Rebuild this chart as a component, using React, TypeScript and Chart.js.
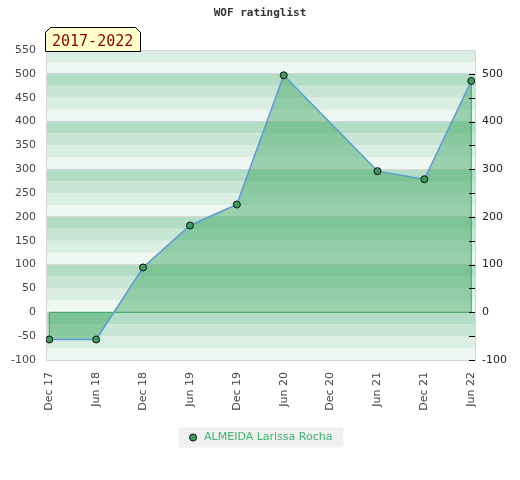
import React, { useEffect, useRef } from "react";
import { Chart, registerables } from "chart.js";

Chart.register(...registerables);

const xLabels: string[] = ["Dec 17", "Jun 18", "Dec 18", "Jun 19", "Dec 19", "Jun 20", "Dec 20", "Jun 21", "Dec 21", "Jun 22"];
const ratings: (number | null)[] = [-57, -57, 94, 182, 226, 497, null, 296, 279, 485];
const seriesName = "ALMEIDA Larissa Rocha";
const chartTitle = "WOF ratinglist";
const periodLabel = "2017-2022";
const yMin = -100;
const yMax = 550;
const bandColors = ["#eef7f1", "#dbeee3", "#c8e6d5", "#b3dec5"]; // by (value mod 100)/25

const bandsPlugin = {
  id: "bands",
  beforeDraw(chart: any) {
    const { ctx, chartArea } = chart;
    const y = chart.scales.y;
    ctx.save();
    for (let v = yMin; v < yMax; v += 25) {
      const idx = (((v % 100) + 100) % 100) / 25;
      const top = y.getPixelForValue(v + 25);
      const bot = y.getPixelForValue(v);
      ctx.fillStyle = bandColors[idx];
      ctx.fillRect(chartArea.left, top, chartArea.right - chartArea.left, bot - top);
    }
    const lg = chart.legend;
    if (lg && lg.legendHitBoxes && lg.legendHitBoxes.length) {
      const hb = lg.legendHitBoxes[0];
      const cy = hb.top + 5.5;
      ctx.fillStyle = "#f0f0f0";
      ctx.fillRect(hb.left - 9, cy - 10, hb.width + 20, 20);
    }
    ctx.restore();
  },
};

const outlinePlugin = {
  id: "outline",
  beforeDatasetDraw(chart: any) {
    const { ctx } = chart;
    const x = chart.scales.x;
    const y = chart.scales.y;
    const idxs = ratings.map((v, i) => (v === null ? -1 : i)).filter((i) => i >= 0);
    const first = idxs[0];
    const last = idxs[idxs.length - 1];
    ctx.save();
    ctx.strokeStyle = "#34a05a";
    ctx.lineWidth = 1;
    ctx.beginPath();
    ctx.moveTo(x.getPixelForValue(first), y.getPixelForValue(ratings[first] as number));
    ctx.lineTo(x.getPixelForValue(first), y.getPixelForValue(0));
    ctx.lineTo(x.getPixelForValue(last), y.getPixelForValue(0));
    ctx.lineTo(x.getPixelForValue(last), y.getPixelForValue(ratings[last] as number));
    ctx.stroke();
    ctx.restore();
  },
};

const rightTicksPlugin = {
  id: "rightTicks",
  afterDatasetsDraw(chart: any) {
    const { ctx, chartArea } = chart;
    const y2 = chart.scales.y2;
    ctx.save();
    ctx.strokeStyle = "#000";
    ctx.lineWidth = 1;
    ctx.beginPath();
    for (const t of y2.ticks) {
      if (t.value >= yMax) continue;
      const py = Math.round(y2.getPixelForValue(t.value)) + 0.5;
      ctx.moveTo(chartArea.right - 6, py);
      ctx.lineTo(chartArea.right, py);
    }
    ctx.stroke();
    ctx.restore();
  },
};

const badgePlugin = {
  id: "badge",
  afterDraw(chart: any) {
    const { ctx, chartArea } = chart;
    const l = chartArea.left - 1;
    const b = chartArea.top + 1;
    const w = 95;
    const h = 24;
    const c = 5;
    ctx.save();
    ctx.beginPath();
    ctx.moveTo(l + 0.5, b + 0.5);
    ctx.lineTo(l + 0.5, b - h + c + 0.5);
    ctx.lineTo(l + c + 0.5, b - h + 0.5);
    ctx.lineTo(l + w - c + 0.5, b - h + 0.5);
    ctx.lineTo(l + w + 0.5, b - h + c + 0.5);
    ctx.lineTo(l + w + 0.5, b + 0.5);
    ctx.closePath();
    ctx.fillStyle = "#ffffcc";
    ctx.fill();
    ctx.strokeStyle = "#000";
    ctx.lineWidth = 1;
    ctx.stroke();
    ctx.fillStyle = "#8b0000";
    ctx.font = "15px 'DejaVu Sans Mono'";
    ctx.textBaseline = "alphabetic";
    ctx.textAlign = "left";
    ctx.fillText(periodLabel, l + 7, b - 5);
    ctx.restore();
  },
};

export default function App() {
  const ref = useRef<HTMLCanvasElement | null>(null);
  useEffect(() => {
    document.body.style.margin = "0";
    Chart.defaults.font.family = "'DejaVu Sans'";
    Chart.defaults.font.size = 11;
    const chart = new Chart(ref.current as HTMLCanvasElement, {
      type: "line",
      data: {
        datasets: [
          {
            label: seriesName,
            data: ratings.map((v, i) => ({ x: i, y: v })) as any,
            spanGaps: true,
            fill: "origin",
            backgroundColor: "rgba(69,170,103,0.5)",
            borderColor: "#5b9bd5",
            borderWidth: 1.5,
            tension: 0,
            pointRadius: 3.5,
            pointBackgroundColor: "#3a9d5d",
            pointBorderColor: "#111",
            pointBorderWidth: 1,
          },
        ],
      },
      options: {
        animation: false,
        responsive: false,
        layout: { padding: { top: 0, bottom: 27, left: 0, right: 0 } },
        plugins: {
          title: {
            display: true,
            text: chartTitle,
            color: "#333",
            font: { family: "'DejaVu Sans Mono'", size: 11, weight: "bold" },
            padding: { top: 7, bottom: 29.8 },
          },
          legend: {
            position: "bottom",
            labels: {
              usePointStyle: true,
              pointStyle: "circle",
              boxWidth: 11,
              boxHeight: 5,
              color: "#3cb371",
              font: { size: 11 },
              padding: 12,
            },
          },
          tooltip: { enabled: false },
        },
        scales: {
          x: {
            type: "linear",
            min: -0.07,
            max: 9.08,
            afterBuildTicks: (scale: any) => {
              scale.ticks = xLabels.map((_, i) => ({ value: i }));
            },
            afterFit: (scale: any) => {
              scale.height = 60;
            },
            ticks: {
              callback: (v: any) => xLabels[v as number] ?? "",
              minRotation: 90,
              maxRotation: 90,
              padding: 12,
              color: "#444",
              autoSkip: false,
            },
            grid: { display: true, drawOnChartArea: false, drawTicks: false },
            border: { color: "#d6d6d6" },
          },
          y: {
            type: "linear",
            position: "left",
            min: yMin,
            max: yMax,
            afterFit: (scale: any) => {
              scale.width = 46;
            },
            ticks: { stepSize: 50, padding: 10, color: "#444" },
            grid: {
              drawTicks: false,
              color: (ctx: any) =>
                ctx.tick && (ctx.tick.value % 100 === 0 || ctx.tick.value === yMax) ? "#d8d8d8" : "rgba(0,0,0,0)",
            },
            border: { color: "#d6d6d6" },
          },
          y2: {
            type: "linear",
            position: "right",
            min: yMin,
            max: yMax,
            afterFit: (scale: any) => {
              scale.width = 45;
            },
            ticks: {
              stepSize: 50,
              padding: 7,
              color: "#222",
              callback: (v: any) => (Number(v) % 100 === 0 ? String(v) : ""),
            },
            grid: { drawOnChartArea: false, drawTicks: false },
            border: { display: true, color: "#d6d6d6" },
          },
        },
      },
      plugins: [bandsPlugin, outlinePlugin, rightTicksPlugin, badgePlugin],
    } as any);
    return () => chart.destroy();
  }, []);
  return (
    <div style={{ width: 520, height: 480 }}>
      <canvas ref={ref} width={520} height={480} />
    </div>
  );
}
